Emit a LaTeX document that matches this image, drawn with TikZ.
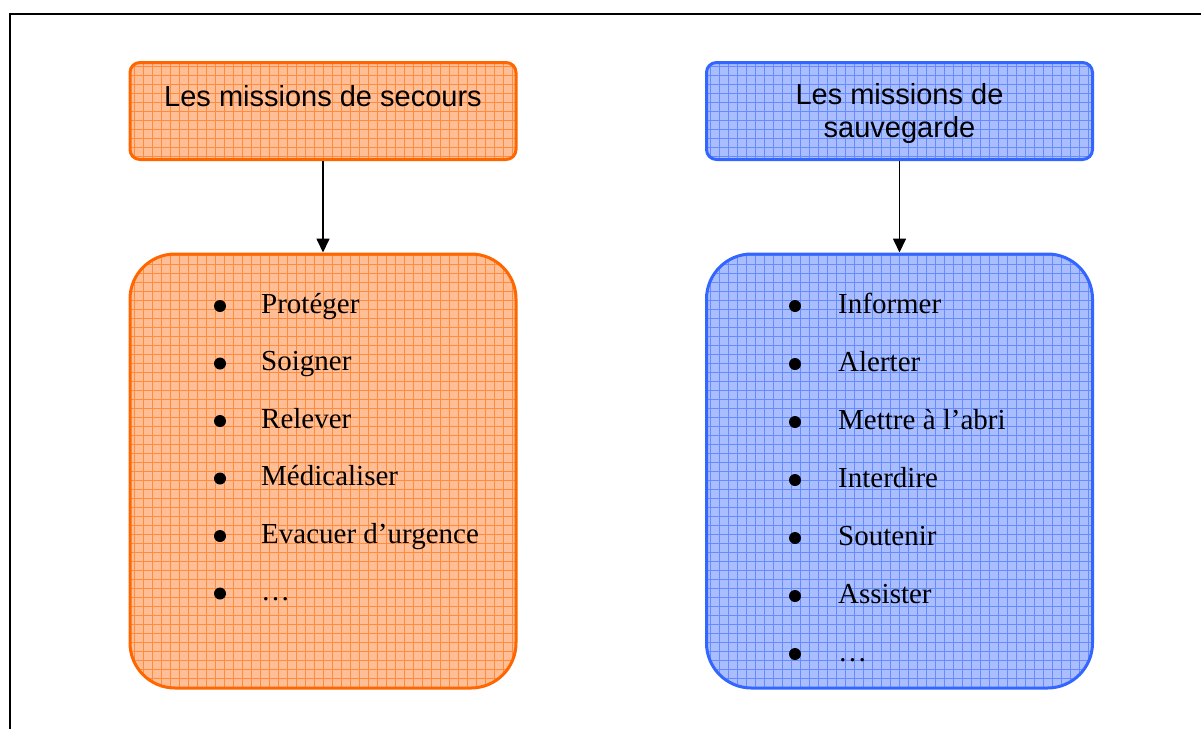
\documentclass[tikz,border=0pt]{standalone}
\usepackage{fontspec}
\setmainfont{Liberation Serif}
\newfontfamily\arialfont{Liberation Sans}
\usetikzlibrary{arrows.meta}
\definecolor{orB}{RGB}{255,102,0}
\definecolor{orF}{RGB}{255,190,150}
\definecolor{orG}{RGB}{255,140,60}
\definecolor{blB}{RGB}{51,102,255}
\definecolor{blF}{RGB}{170,190,255}
\definecolor{blG}{RGB}{100,140,255}
\tikzset{
  boxbase/.style={inner sep=0pt, line width=3pt},
  topbox/.style={boxbase, rounded corners=10pt, minimum width=386pt, minimum height=97pt},
  listbox/.style={boxbase, rounded corners=45pt, minimum width=386pt, minimum height=434pt},
  orangestyle/.style={draw=orB, fill=orF, path picture={
      \draw[orG, line width=1pt, step=9pt] (path picture bounding box.south west) grid (path picture bounding box.north east);}},
  bluestyle/.style={draw=blB, fill=blF, path picture={
      \draw[blG, line width=1pt, step=9pt] (path picture bounding box.south west) grid (path picture bounding box.north east);}},
  titletext/.style={font=\arialfont\fontsize{29}{33}\selectfont, inner sep=0pt, align=center},
  itemtext/.style={font=\fontsize{29}{33}\selectfont, inner sep=0pt, anchor=base west},
  bulletdot/.style={circle, fill=black, inner sep=0pt, minimum size=12pt},
  connector/.style={line width=1.7pt, -{Triangle[width=13pt,length=14pt]}}
}
\begin{document}
\begin{tikzpicture}[x=1pt,y=-1pt]
\useasboundingbox (0,0) rectangle (1201,729);
% outer frame
\coordinate (fa) at (10,729);
\coordinate (fb) at (10,14);
\coordinate (fc) at (1201,14);
\draw[line width=2pt] (fa) -- (fb) -- (fc);

% boxes
\node[topbox, orangestyle] (secours) at (323,111) {};
\node[listbox, orangestyle] (seclist) at (323,471) {};
\node[topbox, bluestyle] (sauve) at (899.5,111) {};
\node[listbox, bluestyle] (sauvlist) at (899.5,471) {};

% titles
\node[titletext, anchor=base] (secourst) at (323,106) {Les missions de secours};
\node[titletext, anchor=north] (sauvet) at (899.5,83) {Les missions de\\sauvegarde};

% connectors
\draw[connector] (secours.south) -- (seclist.north);
\draw[connector] (sauve.south) -- (sauvlist.north);

% left list
\foreach \t [count=\i] in {Protéger, Soigner, Relever, Médicaliser, Evacuer d’urgence, …}{
  \node[bulletdot] (lb\i) at (220,{306+57.5*(\i-1)}) {};
  \node[itemtext] (lt\i) at (261,{313+57.5*(\i-1)}) {\t};
}
% right list
\foreach \t [count=\i] in {Informer, Alerter, Mettre à l’abri, Interdire, Soutenir, Assister, …}{
  \node[bulletdot] (rb\i) at (795,{306+58*(\i-1)}) {};
  \node[itemtext] (rt\i) at (838,{313+58*(\i-1)}) {\t};
}
\end{tikzpicture}
\end{document}
